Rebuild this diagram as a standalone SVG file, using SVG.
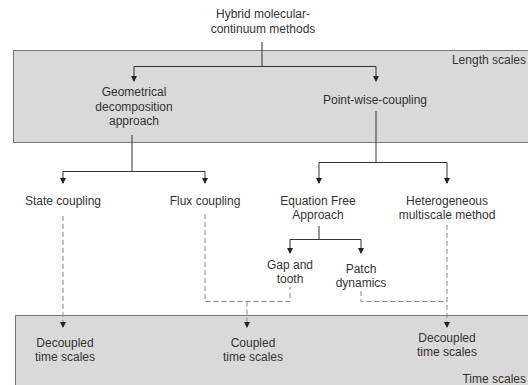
<svg xmlns="http://www.w3.org/2000/svg" width="528" height="385" viewBox="0 0 528 385">
<defs>
<marker id="ahv" markerWidth="6" markerHeight="6" refX="5" refY="3" orient="auto" markerUnits="userSpaceOnUse" viewBox="0 0 6 6">
<path d="M0,0 L6,3 L0,6 Z" fill="#222"/>
</marker>
<style>
text{font-family:"Liberation Sans",Arial,sans-serif;font-size:12px;fill:#333;text-anchor:middle}
.r{text-anchor:end}
.band{fill:#d9d9d9;stroke:#777;stroke-width:1}
.s{fill:none;stroke:#333;stroke-width:1}
.d{fill:none;stroke:#888;stroke-width:1;stroke-dasharray:5,3}
</style>
</defs>
<rect width="528" height="385" fill="#fff"/>
<g id="length-scales">
<rect class="band" x="13.5" y="50.5" width="520" height="92"/>
<text class="r" x="526" y="64">Length scales</text>
</g>
<g id="time-scales">
<rect class="band" x="15.5" y="315.5" width="520" height="80"/>
<text class="r" x="526" y="383">Time scales</text>
</g>
<g id="connectors">
<path class="s" d="M262,42 V66.5 M134,66.5 H376" />
<path class="s" d="M134,66.5 V81" marker-end="url(#ahv)"/>
<path class="s" d="M376,66.5 V81" marker-end="url(#ahv)"/>
<path class="s" d="M132,135 V171.5 M63,171.5 H205"/>
<path class="s" d="M63,171.5 V183" marker-end="url(#ahv)"/>
<path class="s" d="M205,171.5 V183" marker-end="url(#ahv)"/>
<path class="s" d="M376,111 V162.5 M319,162.5 H447"/>
<path class="s" d="M319,162.5 V183" marker-end="url(#ahv)"/>
<path class="s" d="M447,162.5 V183" marker-end="url(#ahv)"/>
<path class="s" d="M319,226 V239.5 M290,239.5 H361"/>
<path class="s" d="M290,239.5 V253" marker-end="url(#ahv)"/>
<path class="s" d="M361,239.5 V253" marker-end="url(#ahv)"/>
<path class="d" d="M63,216 V327" marker-end="url(#ahv)"/>
<path class="d" d="M205,214 V301.5 H290 V287"/>
<path class="d" d="M247,301.5 V327" marker-end="url(#ahv)"/>
<path class="d" d="M447,225 V327" marker-end="url(#ahv)"/>
<path class="d" d="M361,291 V301.5 H447"/>
</g>
<g id="hybrid"><text x="263" y="18">Hybrid molecular-</text><text x="263" y="33">continuum methods</text></g>
<g id="geometrical"><text x="134" y="96">Geometrical</text><text x="134" y="111">decomposition</text><text x="134" y="125">approach</text></g>
<g id="pointwise"><text x="375" y="104">Point-wise-coupling</text></g>
<g id="state"><text x="63" y="205">State coupling</text></g>
<g id="flux"><text x="205" y="205">Flux coupling</text></g>
<g id="eqfree"><text x="318" y="205">Equation Free</text><text x="318" y="219">Approach</text></g>
<g id="hetero"><text x="447" y="205">Heterogeneous</text><text x="447" y="219">multiscale method</text></g>
<g id="gap"><text x="290" y="269">Gap and</text><text x="290" y="283">tooth</text></g>
<g id="patch"><text x="361" y="273">Patch</text><text x="361" y="287">dynamics</text></g>
<g id="dec1"><text x="65" y="347">Decoupled</text><text x="65" y="361">time scales</text></g>
<g id="coupled"><text x="253" y="347">Coupled</text><text x="253" y="361">time scales</text></g>
<g id="dec2"><text x="447" y="342">Decoupled</text><text x="447" y="356">time scales</text></g>
</svg>
